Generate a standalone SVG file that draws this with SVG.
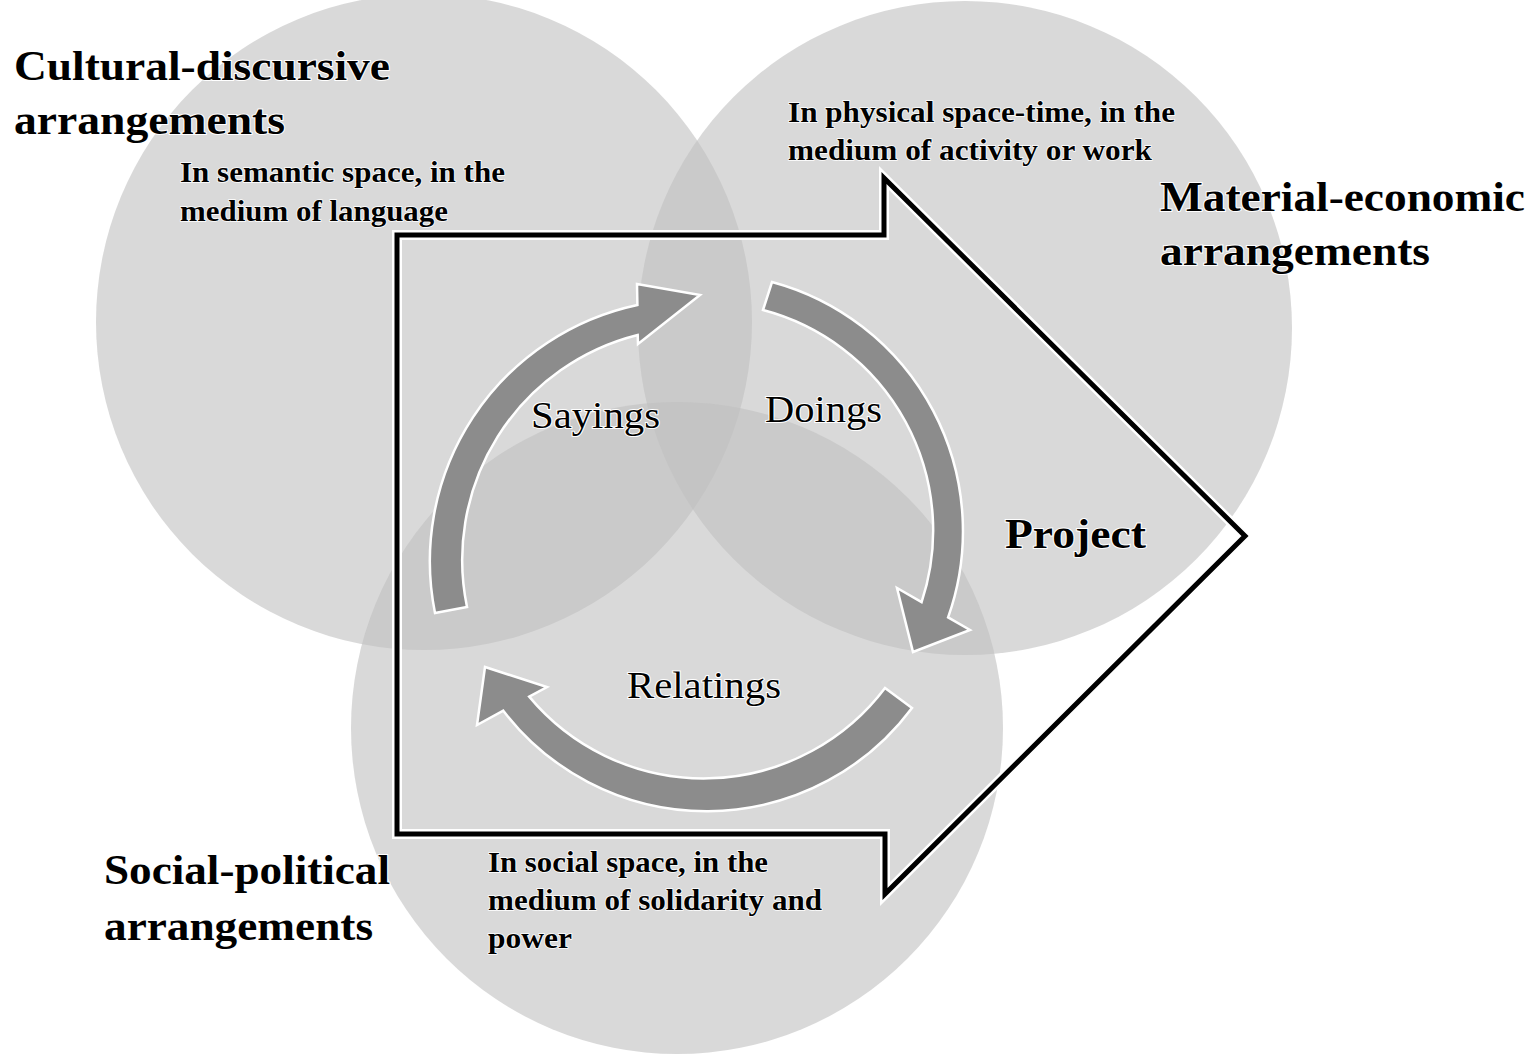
<svg xmlns="http://www.w3.org/2000/svg" width="1535" height="1064" viewBox="0 0 1535 1064">
<style>
.circ{fill:#c0c0c0;fill-opacity:0.6}
.head{font-family:"Liberation Serif","Times New Roman",serif;font-weight:bold;font-size:43px;fill:#000;stroke:#fff;stroke-width:2;paint-order:stroke}
.sub{font-family:"Liberation Serif","Times New Roman",serif;font-weight:bold;font-size:30px;fill:#000;stroke:#fff;stroke-width:1.5;paint-order:stroke}
.lbl{font-family:"Liberation Serif","Times New Roman",serif;font-size:38px;fill:#000;stroke:#fff;stroke-width:2;paint-order:stroke}
.arr{fill:#8c8c8c;stroke:#fff;stroke-width:2.5;stroke-linejoin:miter}
</style>
<rect width="1535" height="1064" fill="#fff"/>
<g id="circle-cultural"><circle class="circ" cx="424" cy="322" r="328"/></g>
<g id="circle-material"><circle class="circ" cx="965" cy="328" r="327"/></g>
<g id="circle-social"><circle class="circ" cx="677" cy="728" r="326"/></g>
<g id="project-arrow">
<polygon points="397,235 884,235 884,178 1245,536 885,894 885,834 397,834" fill="none" stroke="#fff" stroke-width="10" stroke-linejoin="miter"/>
<polygon points="397,235 884,235 884,178 1245,536 885,894 885,834 397,834" fill="none" stroke="#000" stroke-width="5" stroke-linejoin="miter"/>
</g>
<g id="connectors">
<path id="arrow-sayings" class="arr" d="M435 613 A262 262 0 0 1 637.4 305 L637 284 L700 295 L638 344 L637.7 335 A232 232 0 0 0 467 607 Z"/>
<path id="arrow-doings" class="arr" d="M772 282 A258 258 0 0 1 948.1 617.4 L970 630 L913 652 L897 588 L921.6 602.2 A228 228 0 0 0 763 310 Z"/>
<path id="arrow-relatings" class="arr" d="M912 708 A256 256 0 0 1 503.3 710.7 L477 725 L485 667 L547 687 L529.2 696.6 A227 227 0 0 0 885 688 Z"/>
</g>
<g id="label-cultural">
<text class="head" x="14" y="80" textLength="376" lengthAdjust="spacingAndGlyphs">Cultural-discursive</text>
<text class="head" x="14" y="134" textLength="271" lengthAdjust="spacingAndGlyphs">arrangements</text>
<text class="sub" x="180" y="182" textLength="325" lengthAdjust="spacingAndGlyphs">In semantic space, in the</text>
<text class="sub" x="180" y="221" textLength="268" lengthAdjust="spacingAndGlyphs">medium of language</text>
</g>
<g id="label-material">
<text class="head" x="1160" y="211" textLength="365" lengthAdjust="spacingAndGlyphs">Material-economic</text>
<text class="head" x="1160" y="265" textLength="270" lengthAdjust="spacingAndGlyphs">arrangements</text>
<text class="sub" x="788" y="122" textLength="387" lengthAdjust="spacingAndGlyphs">In physical space-time, in the</text>
<text class="sub" x="788" y="160" textLength="364" lengthAdjust="spacingAndGlyphs">medium of activity or work</text>
</g>
<g id="label-social">
<text class="head" x="104" y="884" textLength="286" lengthAdjust="spacingAndGlyphs">Social-political</text>
<text class="head" x="104" y="940" textLength="269" lengthAdjust="spacingAndGlyphs">arrangements</text>
<text class="sub" x="488" y="872" textLength="280" lengthAdjust="spacingAndGlyphs">In social space, in the</text>
<text class="sub" x="488" y="910" textLength="334" lengthAdjust="spacingAndGlyphs">medium of solidarity and</text>
<text class="sub" x="488" y="948" textLength="84" lengthAdjust="spacingAndGlyphs">power</text>
</g>
<g id="label-sayings"><text class="lbl" x="531" y="428" textLength="129" lengthAdjust="spacingAndGlyphs">Sayings</text></g>
<g id="label-doings"><text class="lbl" x="765" y="422" textLength="117" lengthAdjust="spacingAndGlyphs">Doings</text></g>
<g id="label-relatings"><text class="lbl" x="627" y="698" textLength="154" lengthAdjust="spacingAndGlyphs">Relatings</text></g>
<g id="label-project"><text class="head" x="1005" y="548" textLength="141" lengthAdjust="spacingAndGlyphs">Project</text></g>
</svg>
